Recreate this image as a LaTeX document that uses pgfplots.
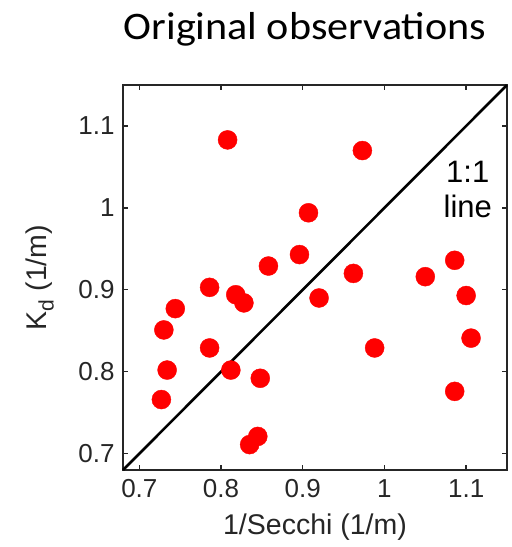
\documentclass[border=0pt]{standalone}
\usepackage{fontspec}
\setmainfont{Liberation Sans}
\newfontfamily\lsans{Liberation Sans}
\newfontfamily\calibri{Carlito}[FakeStretch=1.08]
\usepackage{pgfplots}
\pgfplotsset{compat=1.18}
\definecolor{axgray}{RGB}{38,38,38}
\begin{document}
\begin{tikzpicture}
\path[use as bounding box] (0pt,0pt) rectangle (512pt,547pt);
\node[anchor=base, font=\calibri\fontsize{39}{41}\selectfont] at (305pt,507pt) {Original observations};
\begin{axis}[
  at={(123pt,77pt)}, anchor=south west,
  scale only axis, width=384pt, height=385pt,
  xmin=0.68, xmax=1.15, ymin=0.68, ymax=1.15,
  xtick={0.7,0.8,0.9,1,1.1}, ytick={0.7,0.8,0.9,1,1.1},
  xticklabels={0.7,0.8,0.9,1,1.1}, yticklabels={0.7,0.8,0.9,1,1.1},
  tick align=inside, major tick length=5pt,
  axis line style={axgray, line width=2pt},
  tick style={axgray, line width=1.3pt},
  /pgf/number format/assume math mode=true,
  ticklabel style={font=\lsans\fontsize{26}{26}\selectfont, text=axgray},
  xticklabel style={yshift=-6pt},
  yticklabel style={xshift=-5pt},
  xlabel={1/Secchi (1/m)},
  ylabel={K\raisebox{-0.45ex}{\fontsize{21}{21}\selectfont d} (1/m)},
  label style={font=\lsans\fontsize{28.5}{30}\selectfont, text=axgray},
  xlabel style={at={(axis description cs:0.5,-0.148)}, anchor=center},
  ylabel style={at={(axis description cs:-0.216,0.5)}, anchor=center},
  clip=false,
]
\addplot[black, line width=2.6pt] coordinates {(0.68,0.68) (1.15,1.15)};
\addplot[only marks, mark=*, mark size=9.5pt, mark options={fill=red, draw=none}, color=red] coordinates {
(0.808,1.083) (0.973,1.070) (0.907,0.994) (0.896,0.943) (0.858,0.929)
(0.962,0.920) (1.050,0.916) (1.086,0.936) (1.100,0.893) (1.106,0.841)
(1.086,0.776) (0.988,0.829) (0.920,0.890) (0.786,0.903) (0.818,0.894)
(0.828,0.884) (0.744,0.877) (0.730,0.851) (0.786,0.829) (0.734,0.802)
(0.812,0.802) (0.848,0.792) (0.727,0.766) (0.835,0.711) (0.845,0.721)
};
\node[align=center, font=\lsans\fontsize{31}{35}\selectfont, inner sep=0pt] at (axis cs:1.102,1.022) {1:1\\line};
\end{axis}
\end{tikzpicture}
\end{document}
